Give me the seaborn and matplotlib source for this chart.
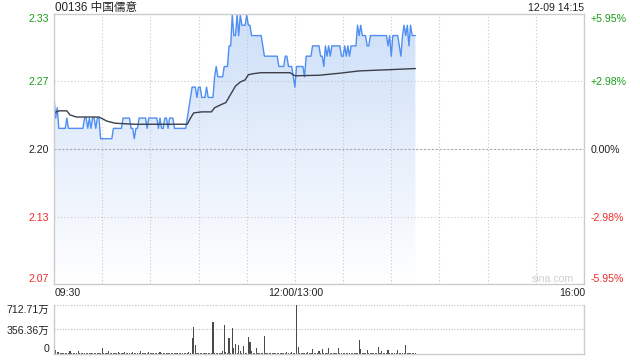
import numpy as np
import pandas as pd
import matplotlib
matplotlib.use("Agg")
import matplotlib.pyplot as plt
import seaborn as sns
from matplotlib.colors import LinearSegmentedColormap

# ---------------- data ----------------
title = "00136 中国儒意"
stamp = "12-09 14:15"
prev_close = 2.20
limit_pct = 5.95
grid_pct = 2.98

price = [
    2.25, 2.23, 2.24, 2.22, 2.22, 2.22, 2.22, 2.22, 2.23, 2.22,   # 0-9
    2.22, 2.22, 2.22, 2.22, 2.22, 2.22, 2.22, 2.22, 2.22, 2.23,   # 10-19
    2.23, 2.22, 2.23, 2.22, 2.23, 2.23, 2.22, 2.23, 2.23, 2.21,   # 20-29
    2.21, 2.21, 2.21, 2.21, 2.21, 2.21, 2.21, 2.22, 2.22, 2.22,   # 30-39
    2.22, 2.22, 2.22, 2.23, 2.23, 2.23, 2.23, 2.23, 2.22, 2.22,   # 40-49
    2.21, 2.22, 2.22, 2.23, 2.23, 2.23, 2.23, 2.23, 2.22, 2.23,   # 50-59
    2.23, 2.23, 2.23, 2.23, 2.23, 2.22, 2.23, 2.22, 2.22, 2.23,   # 60-69
    2.23, 2.22, 2.23, 2.23, 2.23, 2.22, 2.22, 2.22, 2.22, 2.22,   # 70-79
    2.22, 2.22, 2.22, 2.23, 2.24, 2.25, 2.26, 2.26, 2.26, 2.25,   # 80-89
    2.26, 2.26, 2.25, 2.25, 2.25, 2.26, 2.25, 2.25, 2.25, 2.25,   # 90-99
    2.27, 2.28, 2.27, 2.27, 2.27, 2.27, 2.28, 2.28, 2.28, 2.30,   # 100-109
    2.30, 2.33, 2.31, 2.31, 2.33, 2.31, 2.33, 2.32, 2.32, 2.32,   # 110-119
    2.33, 2.32, 2.32, 2.31, 2.31, 2.31, 2.31, 2.31, 2.31, 2.31,   # 120-129
    2.30, 2.29, 2.29, 2.29, 2.29, 2.29, 2.29, 2.29, 2.29, 2.29,   # 130-139
    2.28, 2.28, 2.28, 2.28, 2.29, 2.29, 2.28, 2.28, 2.28, 2.27,   # 140-149
    2.26, 2.28, 2.28, 2.28, 2.28, 2.28, 2.27, 2.29, 2.29, 2.29,   # 150-159
    2.29, 2.30, 2.30, 2.30, 2.30, 2.30, 2.29, 2.29, 2.28, 2.30,   # 160-169
    2.29, 2.30, 2.29, 2.30, 2.30, 2.30, 2.30, 2.30, 2.30, 2.29,   # 170-179
    2.29, 2.30, 2.29, 2.30, 2.29, 2.30, 2.30, 2.30, 2.30, 2.32,   # 180-189
    2.31, 2.32, 2.31, 2.31, 2.31, 2.30, 2.30, 2.31, 2.31, 2.31,   # 190-199
    2.31, 2.31, 2.31, 2.31, 2.31, 2.31, 2.31, 2.31, 2.30, 2.31,   # 200-209
    2.29, 2.31, 2.31, 2.31, 2.31, 2.30, 2.29, 2.31, 2.32, 2.31,   # 210-219
    2.32, 2.30, 2.32, 2.31, 2.31, 2.31,                           # 220-225
]

avg_minutes = [0, 3, 8, 10, 14, 28, 33, 38, 50, 83, 85, 87, 92, 98, 100, 104,
               107, 110, 113, 116, 119, 121, 124, 129, 147, 150, 165, 178,
               190, 210, 225]
avg_price = [2.235, 2.237, 2.237, 2.233, 2.231, 2.231, 2.227, 2.225, 2.224,
             2.224, 2.230, 2.235, 2.236, 2.236, 2.240, 2.243, 2.245, 2.253,
             2.261, 2.265, 2.267, 2.272, 2.273, 2.274, 2.274, 2.271, 2.2715,
             2.2735, 2.2757, 2.277, 2.278]

volume = [  # 万
    100, 58, 30, 25, 18, 15, 20, 12, 18, 10,
    43, 15, 10, 12, 20, 43, 10, 8, 12, 10,
    8, 10, 15, 10, 8, 12, 10, 8, 15, 20,
    92, 10, 15, 8, 43, 12, 20, 15, 10, 8,
    30, 12, 10, 15, 35, 10, 8, 12, 15, 35,
    10, 12, 8, 15, 38, 12, 10, 8, 15, 30,
    12, 10, 15, 8, 12, 10, 30, 12, 8, 10,
    15, 10, 12, 8, 10, 15, 12, 10, 8, 12,
    10, 15, 12, 20, 30, 15, 228, 393, 130, 20,
    15, 12, 10, 15, 12, 20, 10, 15, 12, 464,
    20, 15, 12, 10, 15, 45, 420, 30, 15, 237,
    20, 382, 80, 140, 20, 130, 45, 15, 116, 15,
    20, 252, 180, 40, 15, 12, 92, 15, 20, 12,
    15, 267, 20, 12, 10, 15, 12, 10, 8, 15,
    12, 10, 15, 20, 12, 25, 10, 15, 30, 20,
    15, 712.71, 100, 20, 15, 12, 10, 15, 30, 12,
    15, 72, 12, 10, 15, 40, 12, 72, 15, 10,
    20, 92, 15, 12, 10, 15, 12, 92, 15, 10,
    12, 15, 10, 12, 15, 20, 12, 10, 15, 20,
    203, 72, 15, 12, 20, 60, 15, 12, 20, 15,
    12, 20, 100, 15, 45, 12, 15, 20, 60, 15,
    12, 20, 15, 12, 60, 15, 20, 12, 15, 130,
    15, 12, 20, 15, 12, 20,
]
vol_ticks = [0, 356.36, 712.71]
vol_labels = ["0", "356.36万", "712.71万"]

price_labels = ["2.07", "2.13", "2.20", "2.27", "2.33"]
pct_labels = ["-5.95%", "-2.98%", "0.00%", "+2.98%", "+5.95%"]
x_labels = ["09:30", "12:00/13:00", "16:00"]
total_minutes = 330

# ---------------- style ----------------
sns.set_style("white")
plt.rcParams['font.family'] = ['Liberation Sans', 'Noto Sans CJK SC', 'DejaVu Sans']
plt.rcParams['font.size'] = 7.6

GREEN = "#1a9e1a"
RED = "#f02a2a"
BLACK = "#222222"
BORDER = "#cccccc"
GRID = "#c8c8c8"
label_colors = [RED, RED, BLACK, GREEN, GREEN]

W, H = 640, 360
fig = plt.figure(figsize=(6.4, 3.6), dpi=100)
fig.patch.set_facecolor("white")
L, R, T, B = 54, 584, 14, 284
ax = fig.add_axes([L / W, 1 - B / H, (R - L) / W, (B - T) / H])
vax = fig.add_axes([L / W, 1 - 354 / H, (R - L) / W, 49 / H])

minutes = np.arange(len(price))
df = pd.DataFrame({"minute": minutes, "price": price, "volume": volume})
avg_df = pd.DataFrame({"minute": avg_minutes, "avg": avg_price})

ylo = prev_close * (1 - limit_pct / 100)
yhi = prev_close * (1 + limit_pct / 100)
yticks = [ylo, prev_close * (1 - grid_pct / 100), prev_close,
          prev_close * (1 + grid_pct / 100), yhi]

ax.set_xlim(0, total_minutes)
ax.set_ylim(ylo, yhi)

# gradient fill under price
poly = ax.fill_between(df["minute"], df["price"], ylo, color="none", lw=0)
cmap = LinearSegmentedColormap.from_list("g", ["#ffffff", "#cddff8"])
grad = np.linspace(0, 1, 256).reshape(-1, 1)
im = ax.imshow(grad, extent=[0, total_minutes, ylo, yhi], aspect="auto",
               cmap=cmap, origin="lower", zorder=1, interpolation="bilinear")
im.set_clip_path(poly.get_paths()[0], transform=ax.transData)

# grid (drawn above the fill)
for xv in range(30, total_minutes, 30):
    ax.axvline(xv, color=GRID, lw=0.8, ls=(0, (1, 2)), zorder=2)
ax.axhline(yticks[1], color=GRID, lw=0.8, ls=(0, (1, 2)), zorder=2)
ax.axhline(yticks[3], color=GRID, lw=0.8, ls=(0, (1, 2)), zorder=2)
ax.axhline(prev_close, color="#aaaaaa", lw=0.8, ls=(0, (2, 1.5)), zorder=2)

sns.lineplot(data=df, x="minute", y="price", ax=ax, color="#4f8ef2", lw=1.0, zorder=3)
sns.lineplot(data=avg_df, x="minute", y="avg", ax=ax, color="#3a3f4a", lw=1.0, zorder=4)

ax.set_xlabel("")
ax.set_ylabel("")
ax.set_xticks([])
ax.set_yticks(yticks)
ax.set_yticklabels(price_labels)
ax.tick_params(axis="y", length=0, pad=3.5)
for lab, c in zip(ax.get_yticklabels(), label_colors):
    lab.set_color(c)
labs = ax.get_yticklabels()
labs[0].set_va("bottom")
labs[-1].set_va("top")
for s in ax.spines.values():
    s.set_color(BORDER)
    s.set_linewidth(1)
    s.set_zorder(5)

ax2 = ax.twinx()
ax2.set_ylim(ylo, yhi)
ax2.set_yticks(yticks)
ax2.set_yticklabels(pct_labels)
ax2.tick_params(axis="y", length=0, pad=5)
for lab, c in zip(ax2.get_yticklabels(), label_colors):
    lab.set_color(c)
labs2 = ax2.get_yticklabels()
labs2[0].set_va("bottom")
labs2[-1].set_va("top")
for s in ax2.spines.values():
    s.set_visible(False)

# texts
fig.text(L / W + 0.001, 1 - 8 / H, title, ha="left", va="center", fontsize=8.4, color=BLACK)
fig.text(R / W, 1 - 8 / H, stamp, ha="right", va="center", fontsize=7.6, color=BLACK)
fig.text(55 / W, 1 - 293 / H, x_labels[0], ha="left", va="center", color=BLACK)
fig.text(296 / W, 1 - 293 / H, x_labels[1], ha="center", va="center", color=BLACK)
fig.text(585 / W, 1 - 293 / H, x_labels[2], ha="right", va="center", color=BLACK)
fig.text(553 / W, 1 - 279.5 / H, "sina.com", ha="center", va="center", color="#cfcfcf", fontsize=7.6)

# volume panel
sns.barplot(data=df, x="minute", y="volume", ax=vax, native_scale=True,
            color="#4a4a4a", saturation=1, width=0.7, linewidth=0, errorbar=None)
vax.set_xlim(0, total_minutes)
vax.set_ylim(0, vol_ticks[-1])
vax.set_xlabel("")
vax.set_ylabel("")
vax.set_xticks([])
vax.set_yticks(vol_ticks)
vax.set_yticklabels(vol_labels)
vax.tick_params(axis="y", length=0, pad=3.5)
vlabs = vax.get_yticklabels()
vlabs[0].set_va("bottom")
vlabs[-1].set_va("top")
for lab in vlabs:
    lab.set_color(BLACK)
for yv in vol_ticks[1:]:
    vax.axhline(yv, color="#bbbbbb", lw=0.8, ls=(0, (1, 1.5)), zorder=0.5)
vax.spines["top"].set_visible(False)
for k in ["left", "right", "bottom"]:
    vax.spines[k].set_color(BORDER)
    vax.spines[k].set_linewidth(1)

fig.savefig("out.png", dpi=100)
